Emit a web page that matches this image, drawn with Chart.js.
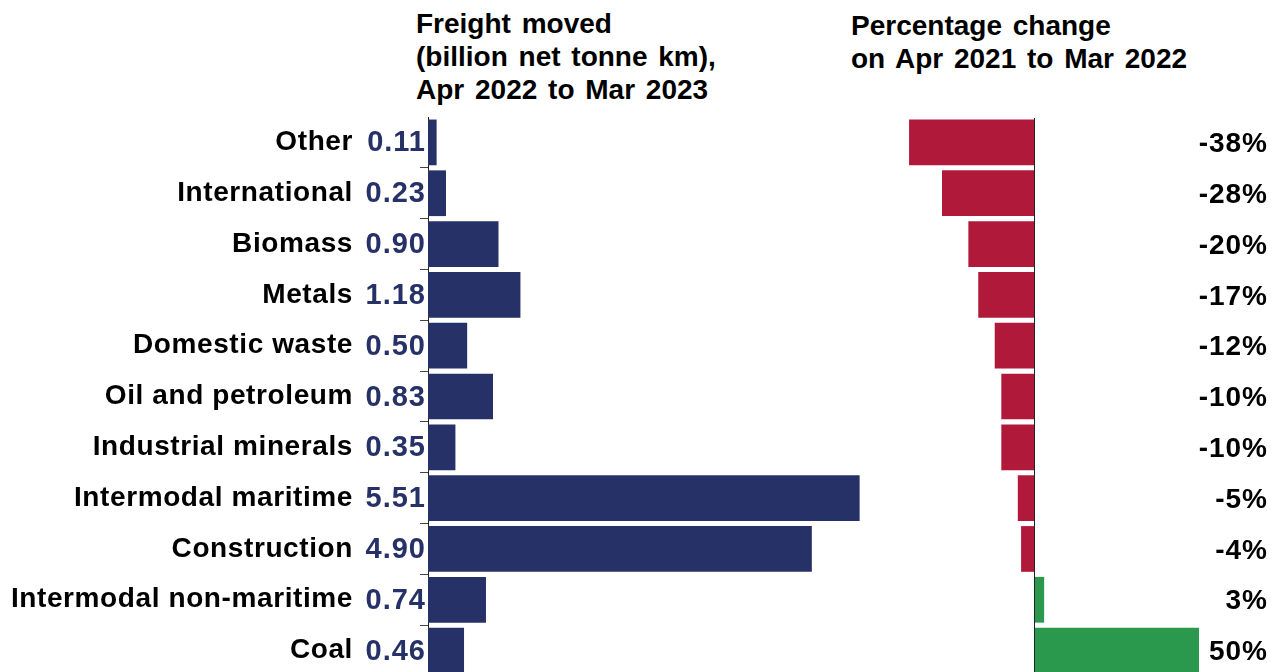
<!DOCTYPE html>
<html><head><meta charset="utf-8">
<script src="https://cdn.jsdelivr.net/npm/chart.js@4"></script>
<style>
html,body{margin:0;padding:0;width:1279px;height:672px;overflow:hidden;background:#fff;font-family:"Liberation Sans",Arial,sans-serif;}
.t{position:absolute;font-weight:bold;font-size:28px;line-height:33px;word-spacing:3px;color:#000;white-space:nowrap}
#cl{position:absolute;left:0;top:0}
#cr{position:absolute;left:880px;top:0}
</style></head><body>
<div class="t" style="left:416px;top:7px">Freight moved<br>(billion net tonne km),<br>Apr 2022 to Mar 2023</div>
<div class="t" style="left:851px;top:9px">Percentage change<br>on Apr 2021 to Mar 2022</div>
<canvas id="cl" width="900" height="680"></canvas>
<canvas id="cr" width="399" height="680"></canvas>
<script>
const categories = ["Other","International","Biomass","Metals","Domestic waste","Oil and petroleum","Industrial minerals","Intermodal maritime","Construction","Intermodal non-maritime","Coal"];
const freightMoved = [0.11,0.23,0.90,1.18,0.50,0.83,0.35,5.51,4.90,0.74,0.46];
const pctChange = [-38,-28,-20,-17,-12,-10,-10,-5,-4,3,50];

const NAVY = '#263167';
const RED = '#B0193A';
const GREEN = '#2A994D';
const FONT = '"Liberation Sans", Arial, sans-serif';

const spacing = {
  id:'spacing',
  beforeDraw(chart){ chart.ctx.letterSpacing = '0.6px'; }
};

const valueLabels = {
  id:'valueLabels',
  afterDraw(chart){
    const {ctx, chartArea, scales} = chart;
    ctx.save();
    ctx.letterSpacing = '1px';
    ctx.font = 'bold 29px ' + FONT;
    ctx.fillStyle = NAVY;
    ctx.textAlign = 'right';
    ctx.textBaseline = 'middle';
    freightMoved.forEach((v,i)=>{
      ctx.fillText(v.toFixed(2), chartArea.left - 2, scales.y.getPixelForValue(i) + 1);
    });
    ctx.restore();
  }
};

const pctLabels = {
  id:'pctLabels',
  afterDraw(chart){
    const {ctx, chartArea, scales} = chart;
    ctx.save();
    const x0 = Math.round(scales.x.getPixelForValue(0)) + 0.5;
    ctx.strokeStyle = '#222';
    ctx.lineWidth = 1;
    ctx.beginPath();
    ctx.moveTo(x0, chartArea.top + 1);
    ctx.lineTo(x0, chartArea.bottom);
    ctx.stroke();
    ctx.letterSpacing = '1px';
    ctx.font = 'bold 28px ' + FONT;
    ctx.fillStyle = '#000';
    ctx.textAlign = 'right';
    ctx.textBaseline = 'middle';
    pctChange.forEach((v,i)=>{
      ctx.fillText(v + '%', 388, scales.y.getPixelForValue(i) + 2);
    });
    ctx.restore();
  }
};

new Chart(document.getElementById('cl'), {
  type:'bar',
  data:{labels:categories, datasets:[{data:freightMoved, backgroundColor:NAVY, barPercentage:0.9, categoryPercentage:1}]},
  options:{
    indexAxis:'y', responsive:false, animation:false,
    layout:{padding:{top:117,bottom:4,left:0,right:2}},
    plugins:{legend:{display:false},tooltip:{enabled:false}},
    scales:{
      x:{display:false,min:0,max:6},
      y:{
        offset:true,
        grid:{display:true,drawOnChartArea:false,offset:true,tickLength:8,lineWidth:1,
              color:(c)=> c.index===0 ? 'rgba(0,0,0,0)' : '#444'},
        border:{display:true,color:'#222',width:1},
        ticks:{padding:67,color:'#000',font:{family:FONT,size:28,weight:'bold'}},
        afterFit(s){ s.width = 428; s.paddingTop = 0; s.paddingBottom = 0; }
      }
    }
  },
  plugins:[spacing, valueLabels]
});

new Chart(document.getElementById('cr'), {
  type:'bar',
  data:{labels:categories, datasets:[{data:pctChange, backgroundColor:pctChange.map(v=> v<0 ? RED : GREEN), barPercentage:0.9, categoryPercentage:1}]},
  options:{
    indexAxis:'y', responsive:false, animation:false,
    layout:{padding:{top:117,bottom:4,left:6,right:80}},
    plugins:{legend:{display:false},tooltip:{enabled:false}},
    scales:{
      x:{display:false,min:-45,max:50},
      y:{display:false,offset:true}
    }
  },
  plugins:[pctLabels]
});
</script>
</body></html>
